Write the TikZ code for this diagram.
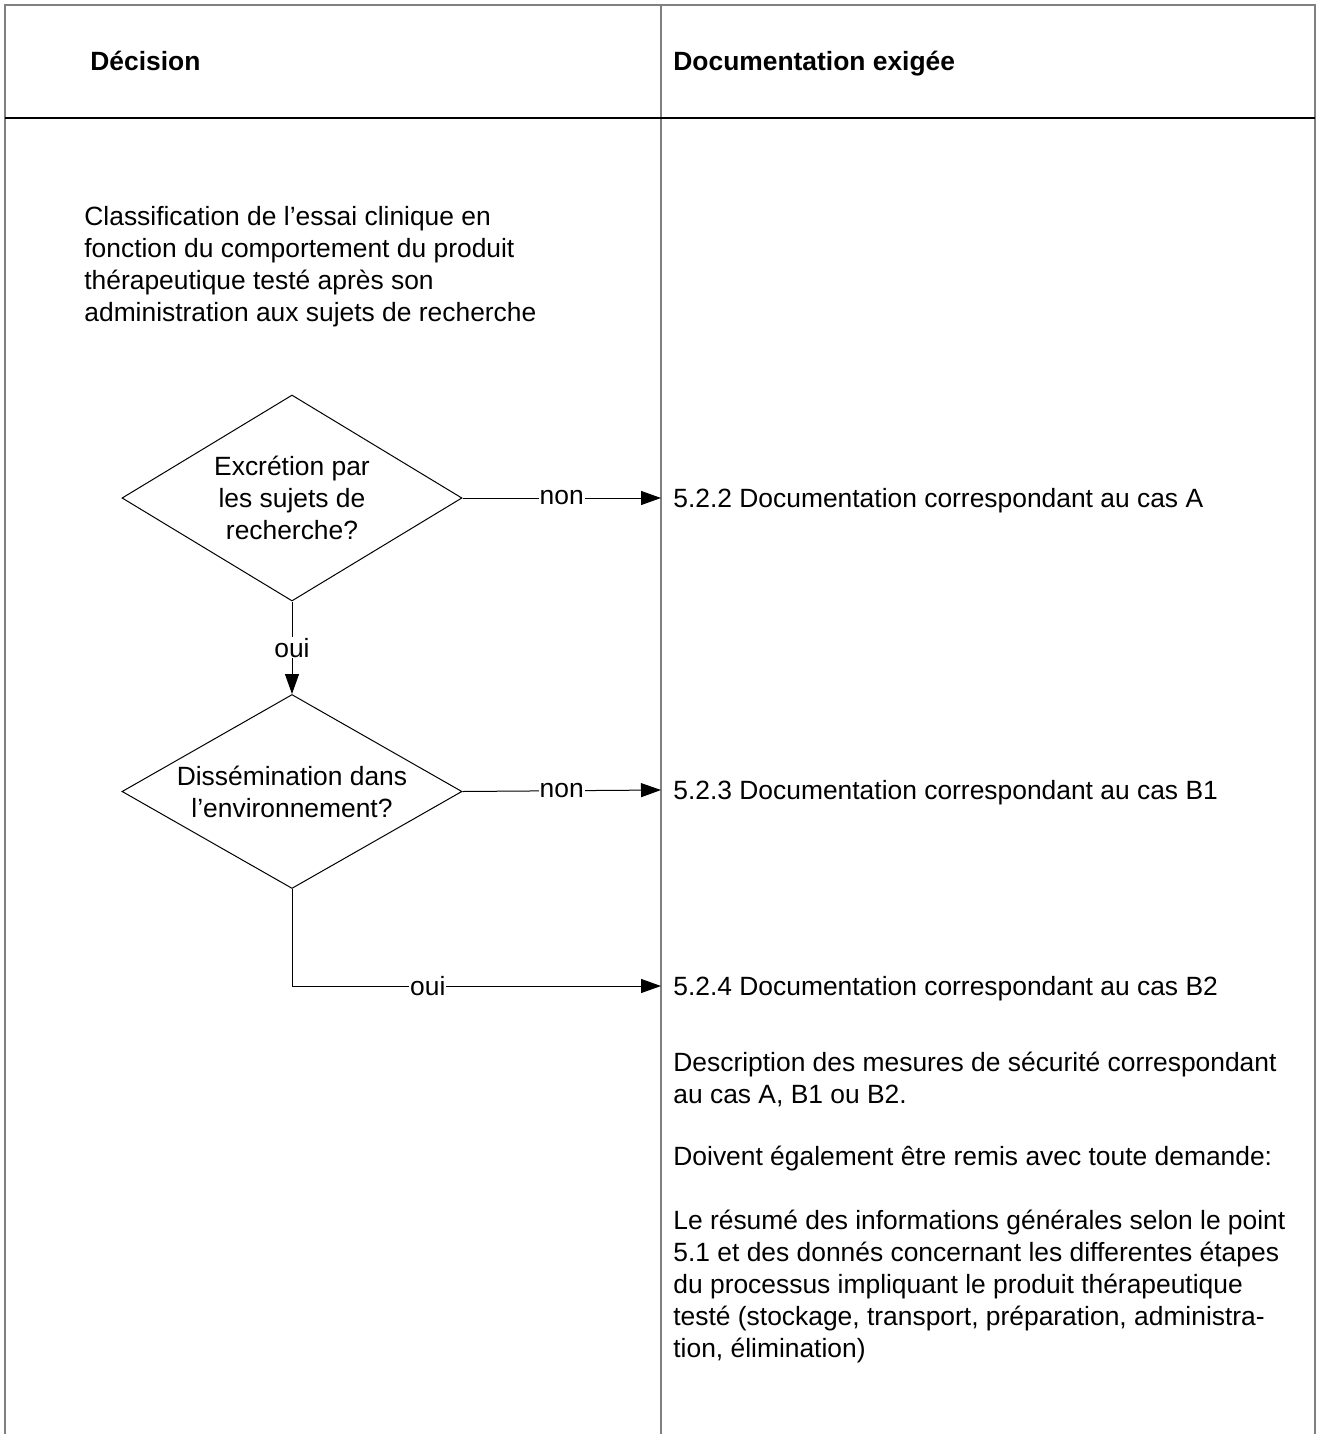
\documentclass[tikz,border=0pt]{standalone}
\usepackage{fontspec}
\setmainfont{Liberation Sans}
\usetikzlibrary{shapes.geometric,arrows.meta}
\begin{document}
\begin{tikzpicture}[x=0.5pt,y=-0.5pt,
  every node/.style={font=\fontsize{13.2}{16}\selectfont},
  frame/.style={draw=black!50, line width=1pt},
  decision/.style={draw, shape=diamond, shape aspect=1.65, inner sep=0pt, line width=0.5pt, minimum width=170pt, align=center},
  conn/.style={draw, line width=0.5pt, -{Triangle[length=10pt,width=7pt]}},
  lbl/.style={fill=white, inner sep=0.5pt},
  doc/.style={anchor=west, inner xsep=6pt, inner ysep=0pt, text height=9.5pt, text depth=0pt},
  para/.style={anchor=north west, inner sep=0pt, align=left},
  head/.style={anchor=base west, inner sep=0pt, font=\fontsize{13.2}{16}\selectfont\bfseries}
]
\useasboundingbox (0,0) rectangle (1318,1434);
% table frame
\draw[frame] (5,1434) -- (5,5) -- (1315,5) -- (1315,1434);
\draw[frame] (661,5) -- (661,1434);
\draw[line width=0.6pt] (5,118) -- (1315,118);
% headers
\node[head] (h1) at (90,71) {Décision};
\node[head] (h2) at (673,71) {Documentation exigée};
% left column
\node[para] (cls) at (84,205.5) {Classification de l’essai clinique en\\fonction du comportement du produit\\thérapeutique testé après son\\administration aux sujets de recherche};
\node[decision, minimum height=103pt] (d1) at (292,498) {Excrétion par\\les sujets de\\recherche?};
\node[decision, minimum height=97pt] (d2) at (292,791.5) {Dissémination dans\\l’environnement?};
% right column
\node[doc] (A) at (661,498) {5.2.2 Documentation correspondant au cas A};
\node[doc] (B1) at (661,790) {5.2.3 Documentation correspondant au cas B1};
\node[doc] (B2) at (661,986) {5.2.4 Documentation correspondant au cas B2};
\node[para] (desc) at (673,1051.5) {Description des mesures de sécurité correspondant\\au cas A, B1 ou B2.};
\node[para] (doiv) at (673,1145.5) {Doivent également être remis avec toute demande:};
\node[para] (resume) at (673,1209.5) {Le résumé des informations générales selon le point\\5.1 et des donnés concernant les differentes étapes\\du processus impliquant le produit thérapeutique\\testé (stockage, transport, préparation, administra-\\tion, élimination)};
% connectors
\draw[conn] (d1.east) -- node[lbl]{non} (A.west);
\draw[conn] (d1.south) -- node[lbl]{oui} (d2.north);
\draw[conn] (d2.east) -- node[lbl]{non} (B1.west);
\draw[conn] (d2.south) |- node[lbl,pos=0.684]{oui} (B2.west);
\end{tikzpicture}
\end{document}
